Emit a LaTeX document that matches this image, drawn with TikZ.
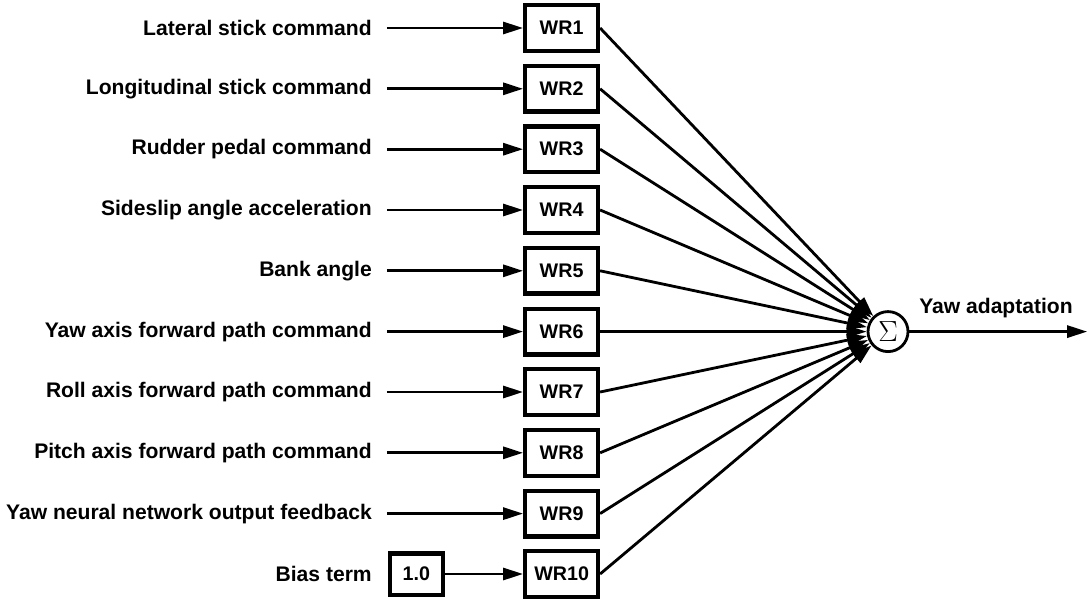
\documentclass[tikz,border=0pt]{standalone}
\usepackage{amsmath}
\usepackage{fontspec}
\setmainfont{Liberation Sans}
\usetikzlibrary{arrows, arrows.meta}
\usetikzlibrary{calc}

\tikzset{
  inlabel/.style={anchor=east, inner xsep=10.5pt, font=\bfseries\fontsize{15}{17}\selectfont},
  wbox/.style={draw, line width=3pt, minimum width=1.82cm, minimum height=1.14cm, inner sep=0pt, font=\bfseries\fontsize{14}{16}\selectfont},
  feed/.style={line width=2pt, -{Triangle[length=5mm, width=3mm]}},
}

\begin{document}
\begin{tikzpicture}
      \useasboundingbox (0,0) rectangle (27.2,-14.95);

      \node[inlabel] (l1) at (9.67,-0.70) {Lateral stick command};
      \node[inlabel] (l2) at (9.67,-2.22) {Longitudinal stick command};
      \node[inlabel] (l3) at (9.67,-3.73) {Rudder pedal command};
      \node[inlabel] (l4) at (9.67,-5.25) {Sideslip angle acceleration};
      \node[inlabel] (l5) at (9.67,-6.77) {Bank angle};
      \node[inlabel] (l6) at (9.67,-8.29) {Yaw axis forward path command};
      \node[inlabel] (l7) at (9.67,-9.80) {Roll axis forward path command};
      \node[inlabel] (l8) at (9.67,-11.32) {Pitch axis forward path command};
      \node[inlabel] (l9) at (9.67,-12.84) {Yaw neural network output feedback};
      \node[inlabel] (l10) at (9.67,-14.35) {Bias term};
      \node[wbox, minimum width=1.32cm, minimum height=1.03cm] (bias) at (10.41,-14.35) {1.0};

      \node[wbox] (w1) at (14.04,-0.70) {WR1};
      \node[wbox] (w2) at (14.04,-2.22) {WR2};
      \node[wbox] (w3) at (14.04,-3.73) {WR3};
      \node[wbox] (w4) at (14.04,-5.25) {WR4};
      \node[wbox] (w5) at (14.04,-6.77) {WR5};
      \node[wbox] (w6) at (14.04,-8.29) {WR6};
      \node[wbox] (w7) at (14.04,-9.80) {WR7};
      \node[wbox] (w8) at (14.04,-11.32) {WR8};
      \node[wbox] (w9) at (14.04,-12.84) {WR9};
      \node[wbox] (w10) at (14.04,-14.35) {WR10};

      \node[circle, draw, line width=2pt, minimum size=1cm, inner sep=0pt, font=\fontsize{21}{24}\selectfont] (sum) at (22.2,-8.29) {$\Sigma$};
      \node[font=\bfseries\fontsize{15}{17}\selectfont] (yaw) at (24.9,-7.7) {Yaw adaptation};
      \coordinate (out) at (27.18,-8.29);

      \draw[feed] (l1) -- (w1);
      \draw[feed] (l2) -- (w2);
      \draw[feed] (l3) -- (w3);
      \draw[feed] (l4) -- (w4);
      \draw[feed] (l5) -- (w5);
      \draw[feed] (l6) -- (w6);
      \draw[feed] (l7) -- (w7);
      \draw[feed] (l8) -- (w8);
      \draw[feed] (l9) -- (w9);
      \draw[feed] (bias) -- (w10);

      \draw[feed] (w1.east) -- (sum);
      \draw[feed] (w2.east) -- (sum);
      \draw[feed] (w3.east) -- (sum);
      \draw[feed] (w4.east) -- (sum);
      \draw[feed] (w5.east) -- (sum);
      \draw[feed] (w6.east) -- (sum);
      \draw[feed] (w7.east) -- (sum);
      \draw[feed] (w8.east) -- (sum);
      \draw[feed] (w9.east) -- (sum);
      \draw[feed] (w10.east) -- (sum);
      \draw[feed] (sum) -- (out);
    \end{tikzpicture}
\end{document}
